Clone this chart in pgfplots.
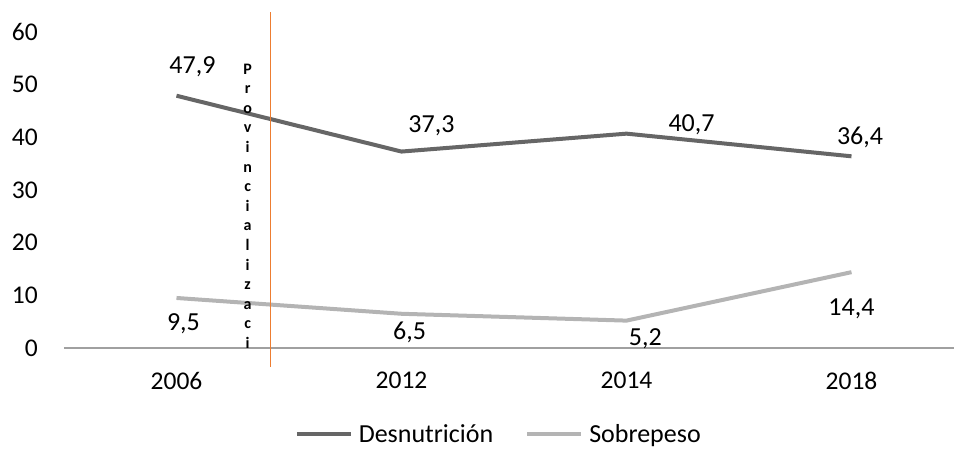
\documentclass[border=0pt]{standalone}
\usepackage{pgfplots}
\pgfplotsset{compat=1.18}
\usepackage{fontspec}
\setmainfont{Carlito}
\definecolor{dark}{HTML}{666666}
\definecolor{light}{HTML}{B4B4B4}
\definecolor{axisgray}{HTML}{A0A0A0}
\definecolor{orng}{HTML}{ED7D31}
\begin{document}
\begin{tikzpicture}
\path[use as bounding box] (-64pt,-100pt) rectangle (890pt,348pt);
\begin{axis}[
  at={(0pt,0pt)}, anchor=south west,
  scale only axis, width=890pt, height=316pt,
  xmin=-0.5, xmax=3.4556, ymin=0, ymax=60,
  axis lines=left,
  axis line style={-},
  y axis line style={draw=none},
  x axis line style={axisgray, line width=1.5pt},
  xtick={0,1,2,3}, xticklabels={2006,2012,2014,2018},
  ytick={0,10,...,60},
  major tick length=0pt,
  tick style={draw=none},
  xticklabel style={inner sep=0pt, anchor=north, yshift=-24pt},
  yticklabel style={inner sep=0pt, anchor=east, xshift=-26pt},
  tick label style={font=\fontsize{25.5}{30}\selectfont},
  /pgf/number format/assume math mode=true,
  clip=false,
  legend style={at={(0.4885,-0.272)}, anchor=center, draw=none, fill=none,
    legend columns=2, font=\fontsize{26}{30}\selectfont,
    inner sep=0pt, outer sep=0pt,
    /tikz/every odd column/.append style={column sep=4pt},
    /tikz/every even column/.append style={column sep=30pt}},
  legend image code/.code={\draw[#1, line width=4pt] (0pt,0pt) -- (54pt,0pt);},
]
\addplot[dark, line width=4pt, line join=round] coordinates {(0,47.9) (1,37.3) (2,40.7) (3,36.4)};
\addlegendentry{Desnutrición}
\addplot[light, line width=4pt, line join=round] coordinates {(0,9.5) (1,6.5) (2,5.2) (3,14.4)};
\addlegendentry{Sobrepeso}
\addplot[orng, line width=1.2pt, forget plot] coordinates {(0.418,-3.6) (0.418,63.8)};
\begin{scope}[every node/.style={anchor=base, inner sep=0pt, font=\fontsize{26}{30}\selectfont}]
\node at (axis cs:0.071,52.2) {47,9};
\node at (axis cs:1.133,41.0) {37,3};
\node at (axis cs:2.289,41.2) {40,7};
\node at (axis cs:3.038,38.7) {36,4};
\node at (axis cs:0.031,3.4) {9,5};
\node at (axis cs:1.036,1.52) {6,5};
\node at (axis cs:2.084,0.57) {5,2};
\node at (axis cs:3.0,6.08) {14,4};
\end{scope}
\node[anchor=north, inner sep=0pt, align=center, font=\fontsize{16}{19.6}\selectfont\bfseries]
  at (axis cs:0.316,54.0) {P\\r\\o\\v\\i\\n\\c\\i\\a\\l\\i\\z\\a\\c\\i};
\end{axis}
\end{tikzpicture}
\end{document}
